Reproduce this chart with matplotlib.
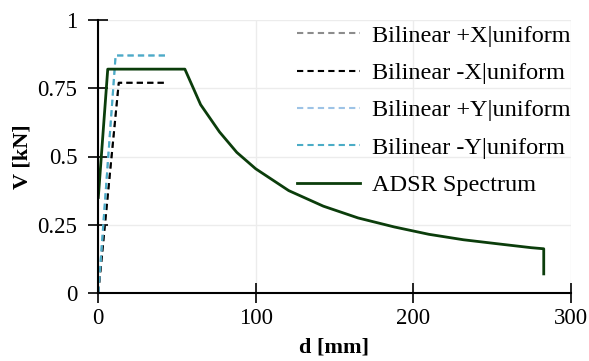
import matplotlib
matplotlib.use('Agg')
import matplotlib.pyplot as plt

#  Chart data
bilinear_x_d = [0, 13, 43]
bilinear_px_v = [0, 0.77, 0.77]
bilinear_nx_v = [0, 0.77, 0.77]
bilinear_y_d = [0, 11, 43]
bilinear_py_v = [0, 0.87, 0.87]
bilinear_ny_v = [0, 0.87, 0.87]

adsr_d = [0, 6, 55, 65, 77, 88, 100, 121, 143, 165, 188, 210, 232, 254, 275, 283, 283]
adsr_v = [0.35, 0.82, 0.82, 0.69, 0.59, 0.515, 0.455, 0.375, 0.318, 0.275,
          0.242, 0.215, 0.195, 0.18, 0.166, 0.162, 0.07]

x_ticks = [0, 100, 200, 300]
y_ticks = [0, 0.25, 0.5, 0.75, 1]
y_tick_labels = ['0', '0.25', '0.5', '0.75', '1']

plt.rcParams['font.family'] = ['Liberation Serif', 'DejaVu Serif']

fig = plt.figure(figsize=(5.89, 3.61), dpi=100)
ax = fig.add_axes([98.3 / 589, 1 - 293 / 361, (570.5 - 98.3) / 589, (293 - 20) / 361])

dash = (3, 2)
ax.plot(bilinear_x_d, bilinear_px_v, color='#8c8c8c', lw=1.5, dashes=dash, label='Bilinear +X|uniform')
ax.plot(bilinear_x_d, bilinear_nx_v, color='black', lw=1.5, dashes=dash, label='Bilinear -X|uniform')
ax.plot(bilinear_y_d, bilinear_py_v, color='#9dc3e6', lw=1.5, dashes=dash, label='Bilinear +Y|uniform')
ax.plot(bilinear_y_d, bilinear_ny_v, color='#4bacc6', lw=1.5, dashes=dash, label='Bilinear -Y|uniform')
ax.plot(adsr_d, adsr_v, color='#0b3d0b', lw=2, label='ADSR Spectrum')

ax.set_xlim(0, 300)
ax.set_ylim(0, 1)
ax.set_xticks(x_ticks)
ax.set_yticks(y_ticks)
ax.set_yticklabels(y_tick_labels)
ax.grid(color='#ececec', lw=1)
ax.set_axisbelow(True)

for side in ['top', 'right']:
    ax.spines[side].set_visible(False)
for side in ['left', 'bottom']:
    ax.spines[side].set_linewidth(1.5)
ax.tick_params(direction='inout', length=14, width=1.2, labelsize=16.5)
ax.tick_params(axis='y', pad=8)
ax.tick_params(axis='x', pad=4)

ax.set_xlabel('d [mm]', fontsize=16, fontweight='bold', labelpad=6)
ax.set_ylabel('V [kN]', fontsize=16, fontweight='bold', labelpad=4)

ax.legend(loc='upper right', bbox_to_anchor=(1.037, 1.045), frameon=False, fontsize=17.5,
          handlelength=2.6, handletextpad=0.5, labelspacing=0.63, borderpad=0.2)

fig.savefig('out.png', dpi=100)
